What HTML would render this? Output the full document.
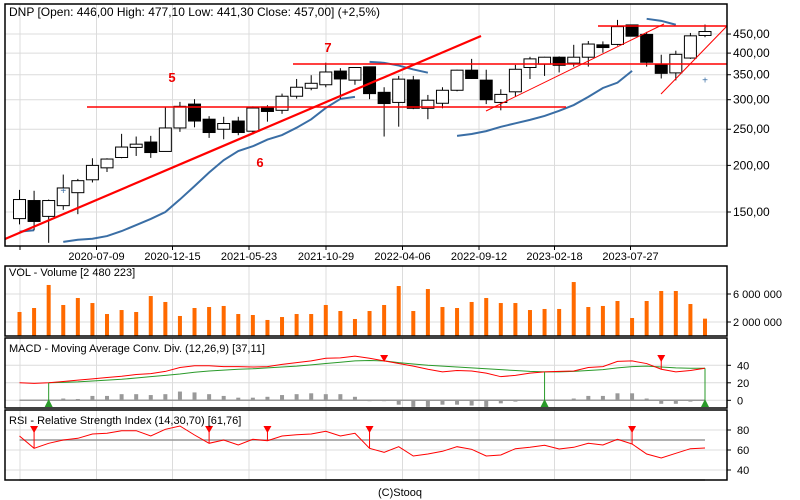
<!DOCTYPE html>
<html><head><meta charset="utf-8"><style>
html,body{margin:0;padding:0;background:#fff;}
svg{display:block;font-family:"Liberation Sans",sans-serif;}
</style></head><body>
<svg id="c" width="800" height="500" xmlns="http://www.w3.org/2000/svg"></svg>
<script>
// ---- data ----
const dateLabels=["2020-07-09","2020-12-15","2021-05-23","2021-10-29","2022-04-06","2022-09-12","2023-02-18","2023-07-27"];
const priceTicks=[150,200,250,300,350,400,450];
const opens =[144,161,146,156,169,183,197,210,223.5,231,218,252,292,266,250,263,247,287,281,306.5,322,329,358,338.5,367.5,314,295,339,284.5,293.5,318,360,338.5,295,315,366,373.5,390,376,390,421,422,476,449,373.5,354,388,446];
const highs =[172,171,162,189,184,209,209,243,239,240,286,296,301,271,270,270,288,290,311.5,341,349,377,364.5,366,367.5,324,347.5,347.5,309,324,361,386,361,320,372,391,391,392,421,431,430,491,477,456,396,406,453,477.1];
const lows  =[139,134,124,152,148,180,192,209,212,209.5,218,246,253,237,235,241,242,262,275,302,318,324,302,329,301,239,254,283,266,284.5,316,341,292,281,306,341,347.5,355,368,368,401,419,443,368,342,338,386,441.3];
const closes=[162,141.5,161,174,182,200,208,224,228,216.5,252,288,263,245,259,245,285,279,306.5,324,332,356,341,366,311.5,293,340.6,284.5,299,318,360,342,300,310,362,386,390,371,390,423,414,471,444,378,353,397,445,457];
const maA=[null,null,null,124.7,126.4,127.2,129.3,133.3,138.4,143.7,150,162.1,176,191.4,206.6,218.6,225.1,234.6,241.2,252.4,265.8,285.1,301.5,305.3];
const maPre=[132.9,134];
const maTop=[null,null,null,null,null,null,null,null,null,null,null,null,null,null,null,null,null,null,null,null,null,null,null,null,379,376.7,370.4,361.6,354.5];
const maB=[null,null,null,null,null,null,null,null,null,null,null,null,null,null,null,null,null,null,null,null,null,null,null,null,null,null,null,null,null,null,239.9,242.8,247.1,253.8,259.3,264.9,271.4,280.1,290.3,305.3,322.5,333.3,358.4];
const maC=[null,null,null,null,null,null,null,null,null,null,null,null,null,null,null,null,null,null,null,null,null,null,null,null,null,null,null,null,null,null,null,null,null,null,null,null,null,null,null,null,null,null,null,494.3,488.2,476.5];
const volumes=[3.43,4.0,7.29,4.43,5.43,4.71,3.14,3.71,3.43,5.71,4.86,2.86,4.0,4.14,4.29,3.14,3.0,2.29,2.71,3.14,3.14,4.43,3.57,2.43,3.57,4.43,7.14,3.57,6.71,4.14,4.0,4.86,5.43,4.71,4.71,3.71,3.86,3.86,7.71,4.14,4.29,5.0,2.57,5.0,6.43,6.43,4.57,2.48];
const volTicks=[2,6];
const macd=[20,19.3,20,21.5,23,24.5,26,27.5,29.5,30.5,33,37.5,39.5,39.5,38.5,38.5,38,38.5,41,43,45,48,48.5,50.5,48,45,42,39,35.5,32.5,34,33.5,31,27,28.5,31,32.5,33,33.5,37.5,38.5,44.5,45,42,35.5,32.5,34,36.6];
const signal=[null,null,20,20.5,21,22,23,24,25.5,27,28.5,30,32,33.5,34.5,35.5,36,37,38,39,40.5,42,43.5,45,45.5,45,43,41.5,40,39,38,37,36,35,34,33,32.5,32.5,33,34,35,37,38.5,39,38,37,36.6,36.6];
const hist=[0,0,0,2,1.5,5,5,7,7,6,7,10,9,7,5,3,3,4,6,7,8,7,7,4,-1,-1,-5,-7.5,-7.5,-5,-5,-6,-7.5,-3.5,-1.5,0,0,0,2,5,5,8,8,2,-4,-4,-1.5,0];
const macdTicks=[0,20,40];
const macdBuy=[2,36,47];
const macdSell=[25,44];
const rsi=[74,61.7,66.7,70,71.7,76,76.7,79.3,79.3,74,80.7,84,75,66.7,70,65,70.7,69.3,74,75.3,76,78.7,74,76.7,61.7,57.7,63.3,54,56,58.7,63.3,60.7,54,55,61.3,62.7,64.7,61,62.7,66.7,65,70.7,66,56,52,56.7,61.3,62];
const rsiTicks=[40,60,80];
const rsiSell=[1,13,17,24,42];

// ---- helpers ----
const svg=document.getElementById('c');
const NS='http://www.w3.org/2000/svg';
function mk(tag,attrs,parent){const e=document.createElementNS(NS,tag);for(const k in attrs)e.setAttribute(k,attrs[k]);(parent||svg).appendChild(e);return e;}
const L=5,R=727;
const xi=i=>19.5+14.585*i;
const py=p=>212-162*Math.log(p/150);
const vy=v=>336-7*v;
const my=v=>400.3-0.875*v;
const ry=v=>510-v-0+(-60);   // 80->430
function rY(v){return 430+(80-v);}
const gridX=[20,96.5,172.5,249,326,402.5,479,554.5,630.5];

function panel(y1,y2,name){
  const g=mk('g',{});
  
  
  mk('rect',{x:L,y:y1,width:R-L,height:y2-y1,fill:'#fff',stroke:'none'},g);
  gridX.forEach(x=>{const l=mk('line',{x1:x,x2:x,y1:y1,y2:y2,stroke:'#dcdcdc','stroke-width':1},g);
    });
  return g;
}
function border(y1,y2,name){const r=mk('rect',{x:L,y:y1,width:R-L,height:y2-y1,fill:'none',stroke:'#000','stroke-width':1.5});
  }
function txt(x,y,s,attrs,name){const t=mk('text',Object.assign({x:x,y:y,'font-size':11,fill:'#000'},attrs||{}));t.textContent=s;
  return t;}
function polyline(arr,f,color,w,name,off){let pts=[];arr.forEach((v,i)=>{if(v!=null)pts.push(xi(i+(off||0))+','+f(v));});
  const p=mk('polyline',{points:pts.join(' '),fill:'none',stroke:color,'stroke-width':w});
  return p;}

// ---- main panel ----
const gMain=panel(4,246,'price-panel');
priceTicks.forEach(p=>{const l=mk('line',{x1:L,x2:R,y1:py(p),y2:py(p),stroke:'#dcdcdc'},gMain);
  
  const t=txt(733,py(p)+4,p.toFixed(2).replace('.',','),{'font-size':12},'price-tick-label');
  mk('line',{x1:R,x2:R+4,y1:py(p),y2:py(p),stroke:'#000'});});
dateLabels.forEach((d,k)=>{const x=gridX[k+1];txt(x,260,d,{'text-anchor':'middle','font-size':11},'date-label');
  mk('line',{x1:x,x2:x,y1:246,y2:250,stroke:'#000'});});
mk('line',{x1:20,x2:20,y1:246,y2:250,stroke:'#000'});

// MA lines
polyline(maPre,py,'#3a6ea5',2,'moving-average-start');
polyline(maA,py,'#3a6ea5',2,'moving-average-1');
polyline(maTop,py,'#3a6ea5',2,'moving-average-2');
polyline(maB,py,'#3a6ea5',2,'moving-average-3');
polyline(maC,py,'#3a6ea5',2,'moving-average-4');

// candles
opens.forEach((o,i)=>{const c=closes[i],x=xi(i);
  const g=mk('g',{});
  
  
  const top=py(Math.max(o,c)),bot=py(Math.min(o,c));
  mk('line',{x1:x,x2:x,y1:py(highs[i]),y2:py(lows[i]),stroke:'#000','stroke-width':1},g);
  mk('rect',{x:x-6,y:top,width:12,height:Math.max(1,bot-top),fill:c>=o?'#fff':'#000',stroke:'#000','stroke-width':1},g);
});
// markers
[[3,171.8],[47,340]].forEach(([i,p])=>{const t=txt(xi(i),py(p)+4,'+',{'text-anchor':'middle','font-size':10,fill:'#3a6ea5'},'ma-marker');});

// red trend lines (annotations)
function rl(x1,y1,x2,y2,w,name){const l=mk('line',{x1,y1,x2,y2,stroke:'#f00','stroke-width':w});}
rl(5,239,481,36,2.2,'trendline-5');
rl(87,107,566,107,1.5,'support-line');
rl(293,64,727,64,1.5,'resistance-line-7');
rl(486,111,664,24,1,'trendline-2023');
rl(598,26,727,26,1.5,'resistance-line-top');
rl(661,94,727,26,1,'trendline-recent');
txt(172,82,'5',{'font-size':13,'font-weight':'bold',fill:'#e00','text-anchor':'middle'},'annotation-5');
txt(260,167,'6',{'font-size':13,'font-weight':'bold',fill:'#e00','text-anchor':'middle'},'annotation-6');
txt(328,52,'7',{'font-size':13,'font-weight':'bold',fill:'#e00','text-anchor':'middle'},'annotation-7');
border(4,246,'price-panel-border');
txt(9,16,'DNP [Open: 446,00  High: 477,10  Low: 441,30  Close: 457,00] (+2,5%)',{'font-size':12,'xml:space':'preserve'},'chart-title');

// ---- volume ----
const gVol=panel(266,336,'volume-panel');
volTicks.forEach(v=>{mk('line',{x1:L,x2:R,y1:vy(v),y2:vy(v),stroke:'#dcdcdc'},gVol);
  txt(733,vy(v)+4,(v+' 000 000'),{'font-size':11},'volume-tick-label');mk('line',{x1:R,x2:R+4,y1:vy(v),y2:vy(v),stroke:'#000'});});
volumes.forEach((v,i)=>{const r=mk('rect',{x:xi(i)-2,y:vy(v),width:4,height:336-vy(v),fill:'#ff6a00'});
  });
border(266,336,'volume-panel-border');
txt(9,276,'VOL - Volume [2 480 223]',{'font-size':11},'volume-title');

// ---- MACD ----
const gM=panel(338,408,'macd-panel');
macdTicks.forEach(v=>{mk('line',{x1:L,x2:R,y1:my(v),y2:my(v),stroke:'#dcdcdc'},gM);
  txt(737,my(v)+4,String(v),{'font-size':11},'macd-tick-label');mk('line',{x1:R,x2:R+4,y1:my(v),y2:my(v),stroke:'#000'});});
const zl=mk('line',{x1:xi(0),x2:xi(47),y1:my(0),y2:my(0),stroke:'#999','stroke-width':1.5});

hist.forEach((h,i)=>{if(h===0)return;const r=mk('rect',{x:xi(i)-2,y:Math.min(my(0),my(h)),width:4,height:Math.abs(my(h)-my(0)),fill:'#999'});
  });
polyline(signal,my,'#2a9a2a',1,'macd-signal-line');
polyline(macd,my,'#f00',1,'macd-line');
macdBuy.forEach(i=>{const x=xi(i);mk('line',{x1:x,x2:x,y1:my(signal[i]),y2:405,stroke:'#2a9a2a'});
  const t=mk('polygon',{points:`${x-4},407 ${x+4},407 ${x},399`,fill:'#2a9a2a'});});
macdSell.forEach(i=>{const x=xi(i);mk('line',{x1:x,x2:x,y1:356,y2:my(macd[i]),stroke:'#f00'});
  const t=mk('polygon',{points:`${x-4},355 ${x+4},355 ${x},362`,fill:'#f00'});});
border(338,408,'macd-panel-border');
txt(9,352,'MACD - Moving Average Conv. Div. (12,26,9) [37,11]',{'font-size':11},'macd-title');

// ---- RSI ----
const gR=panel(410,480,'rsi-panel');
rsiTicks.forEach(v=>{mk('line',{x1:L,x2:R,y1:rY(v),y2:rY(v),stroke:'#dcdcdc'},gR);
  txt(737,rY(v)+4,String(v),{'font-size':11},'rsi-tick-label');mk('line',{x1:R,x2:R+4,y1:rY(v),y2:rY(v),stroke:'#000'});});
[70,30].forEach(v=>{const l=mk('line',{x1:xi(0),x2:xi(47),y1:rY(v),y2:rY(v),stroke:'#999','stroke-width':1.5});
  });
polyline(rsi,rY,'#f00',1,'rsi-line');
rsiSell.forEach(i=>{const x=xi(i);mk('line',{x1:x,x2:x,y1:428,y2:rY(rsi[i]),stroke:'#f00'});
  const t=mk('polygon',{points:`${x-4},426 ${x+4},426 ${x},433`,fill:'#f00'});});
border(410,480,'rsi-panel-border');
txt(9,424,'RSI - Relative Strength Index (14,30,70) [61,76]',{'font-size':11},'rsi-title');

txt(400,496,'(C)Stooq',{'font-size':11,'text-anchor':'middle'},'copyright');
</script>
</body></html>
